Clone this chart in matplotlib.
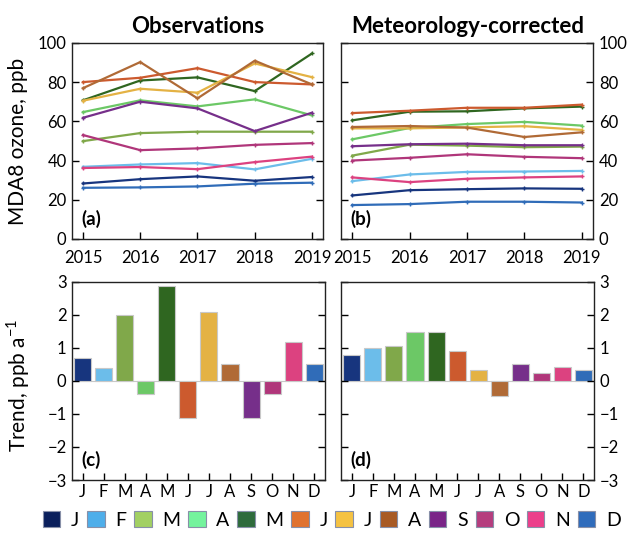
import numpy as np
import matplotlib
matplotlib.use('Agg')
import matplotlib.pyplot as plt
from matplotlib.patches import Patch

plt.rcParams['font.family'] = ['Lato', 'DejaVu Sans']
plt.rcParams['mathtext.fontset'] = 'custom'
plt.rcParams['mathtext.rm'] = 'Lato'

years = [2015, 2016, 2017, 2018, 2019]
months = ['J', 'F', 'M', 'A', 'M', 'J', 'J', 'A', 'S', 'O', 'N', 'D']

# colours used for lines and bars
month_colors = ['#17357e', '#6cbdea', '#80a84a', '#6cc866', '#2f6620', '#cc5a2e',
                '#e4b244', '#b06a36', '#762f8a', '#b0367a', '#dc4280', '#306cb8']
# colours of the legend swatches
legend_colors = ['#0a1f5c', '#4eaeea', '#a2d063', '#74f39d', '#2e6b3c', '#e0722f',
                 '#f5c242', '#a85a24', '#7a2488', '#b53d7e', '#ec3f8b', '#2f6cbc']

# monthly mean MDA8 ozone (ppb), observations
obs = [
    [28.3, 30.5, 31.9, 29.7, 31.6],   # J
    [36.8, 38.0, 38.7, 35.5, 40.9],   # F
    [49.9, 54.0, 54.7, 54.7, 54.7],   # M
    [64.7, 70.7, 67.6, 71.2, 63.0],   # A
    [70.7, 80.8, 82.4, 75.4, 94.6],   # M
    [80.0, 82.2, 87.1, 80.0, 78.8],   # J
    [70.5, 76.6, 74.6, 89.5, 82.5],   # J
    [76.9, 90.2, 71.7, 90.9, 78.8],   # A
    [61.8, 70.0, 66.6, 55.0, 64.4],   # S
    [53.0, 45.3, 46.2, 48.0, 48.9],   # O
    [36.2, 36.7, 35.6, 39.2, 42.0],   # N
    [26.1, 26.3, 26.8, 28.2, 28.7],   # D
]

# meteorology-corrected MDA8 ozone (ppb)
corr = [
    [22.2, 24.9, 25.4, 25.8, 25.6],
    [29.5, 32.9, 34.2, 34.4, 34.7],
    [42.5, 48.1, 47.6, 46.8, 47.1],
    [50.8, 56.6, 58.6, 59.7, 57.8],
    [60.5, 64.9, 65.1, 66.6, 67.5],
    [64.2, 65.4, 66.9, 66.9, 68.5],
    [56.4, 56.4, 56.9, 57.5, 55.6],
    [57.1, 57.6, 56.8, 52.0, 54.4],
    [47.3, 48.3, 48.6, 47.8, 47.8],
    [40.0, 41.4, 43.2, 41.9, 41.2],
    [31.4, 29.0, 30.7, 31.4, 31.9],
    [17.3, 17.8, 19.0, 19.0, 18.6],
]

# linear trends (ppb per year)
trend_obs = [0.69, 0.40, 2.0, -0.41, 2.88, -1.11, 2.09, 0.50, -1.11, -0.41, 1.19, 0.50]
trend_corr = [0.79, 1.01, 1.07, 1.49, 1.49, 0.90, 0.34, -0.46, 0.50, 0.24, 0.42, 0.33]

fig = plt.figure(figsize=(6.38, 5.33), dpi=100)
ax_a = fig.add_axes([0.113, 0.5516, 0.394, 0.368])
ax_b = fig.add_axes([0.535, 0.5516, 0.395, 0.368])
ax_c = fig.add_axes([0.113, 0.0994, 0.396, 0.372])
ax_d = fig.add_axes([0.535, 0.0994, 0.396, 0.372])

tick_fs = 12


def style_ax(ax):
    ax.tick_params(direction='in', length=5, width=1, labelsize=tick_fs,
                   left=True, right=True, bottom=True, top=False, pad=4)
    for s in ax.spines.values():
        s.set_linewidth(1.0)
        s.set_color('#222222')


for ax, data, tag in [(ax_a, obs, '(a)'), (ax_b, corr, '(b)')]:
    for i in range(12):
        ax.plot(years, data[i], color=month_colors[i], lw=1.6,
                marker='+', ms=3.5, mew=1.0)
    ax.set_xlim(2014.81, 2019.2)
    ax.set_ylim(0, 100)
    ax.set_xticks(years)
    ax.set_yticks([0, 20, 40, 60, 80, 100])
    style_ax(ax)
    ax.tick_params(axis='x', pad=8)
    ax.text(0.035, 0.055, tag, transform=ax.transAxes, fontsize=13.5,
            fontweight='bold', va='bottom', ha='left')

x = np.arange(12)
for ax, data, tag in [(ax_c, trend_obs, '(c)'), (ax_d, trend_corr, '(d)')]:
    ax.bar(x, data, width=0.81, color=month_colors, edgecolor='#c8c8c8', linewidth=0.8)
    ax.axhline(0, color='#c8c8c8', lw=0.8, zorder=0)
    ax.set_xlim(-0.5, 11.5)
    ax.set_ylim(-3, 3)
    ax.set_xticks(x)
    ax.set_xticklabels(months)
    ax.set_yticks([-3, -2, -1, 0, 1, 2, 3])
    style_ax(ax)
    ax.tick_params(axis='x', pad=3)
    ax.text(0.035, 0.055, tag, transform=ax.transAxes, fontsize=13.5,
            fontweight='bold', va='bottom', ha='left')

# right-hand panels carry their labels on the right
for ax in (ax_b, ax_d):
    ax.tick_params(labelleft=False, labelright=True)

ax_a.set_title('Observations', fontsize=16, fontweight='bold', pad=7)
ax_b.set_title('Meteorology-corrected', fontsize=16, fontweight='bold', pad=7)

fig.text(0.028, 1 - 141 / 533, 'MDA8 ozone, ppb', rotation=90,
         ha='center', va='center', fontsize=15)
fig.text(0.028, 1 - 385 / 533, r'Trend, ppb a$^{\mathregular{-1}}$', rotation=90,
         ha='center', va='center', fontsize=15)

handles = [Patch(facecolor=c, edgecolor='#8890a8', linewidth=0.8) for c in legend_colors]
fig.legend(handles, months, loc='center', bbox_to_anchor=(0.52, 1 - 520 / 533),
           ncol=12, frameon=False, fontsize=14, handlelength=0.9, handleheight=0.9,
           handletextpad=0.55, columnspacing=0.4, borderaxespad=0, borderpad=0)

fig.savefig('out.png', dpi=100)
